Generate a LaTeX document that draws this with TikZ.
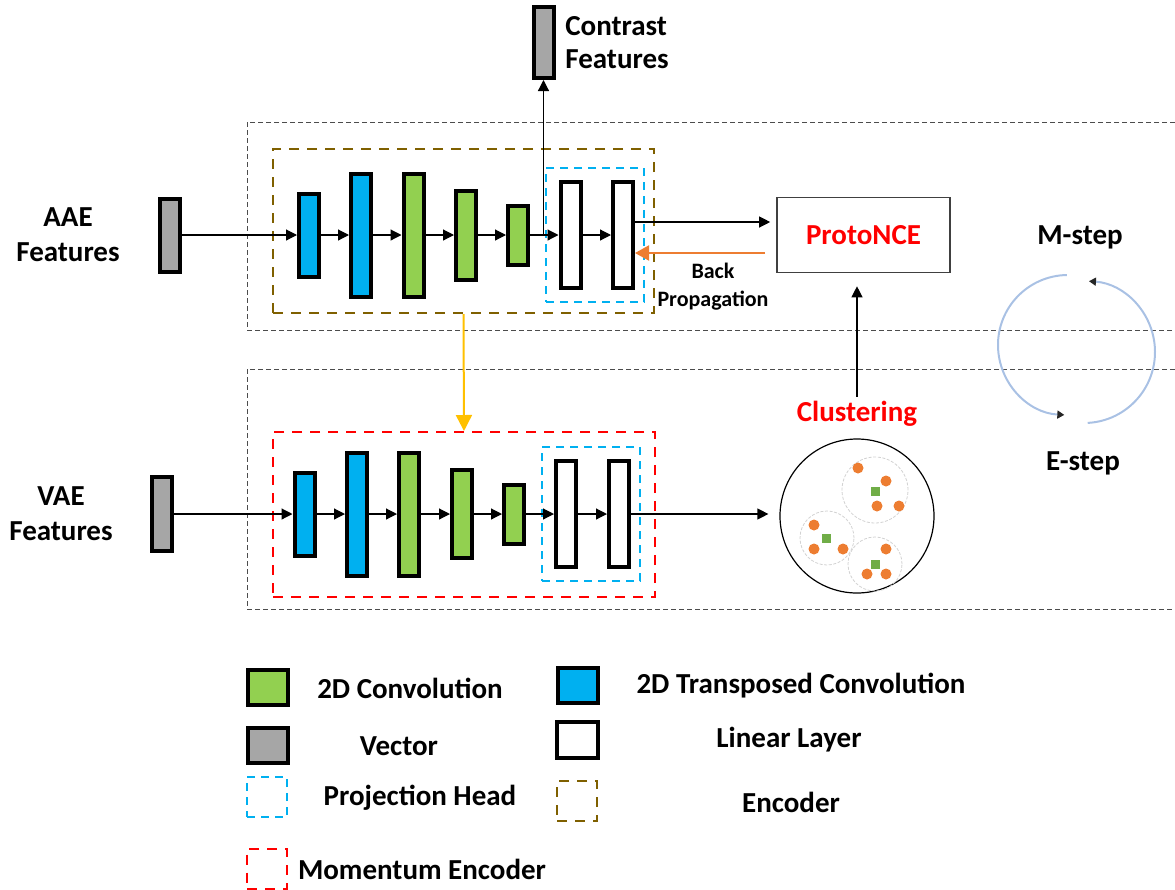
\documentclass[tikz,border=0pt]{standalone}
\usepackage{fontspec}
\setmainfont{Carlito}
\usetikzlibrary{arrows.meta}
\usepackage{xcolor}

\definecolor{convgreen}{HTML}{92D050}
\definecolor{tconvblue}{HTML}{00B0F0}
\definecolor{vecgray}{HTML}{A6A6A6}
\definecolor{encbrown}{HTML}{7F6000}
\definecolor{projcyan}{HTML}{00B0F0}
\definecolor{momred}{HTML}{FF0000}
\definecolor{bporange}{HTML}{ED7D31}
\definecolor{emayellow}{HTML}{FFC000}
\definecolor{centgreen}{HTML}{70AD47}
\definecolor{cycblue}{HTML}{A9C1E4}

\tikzset{
  lay/.style={draw=black, line width=2pt, inner sep=0pt, minimum width=10pt},
  conv/.style={lay, fill=convgreen},
  tconv/.style={lay, fill=tconvblue},
  lin/.style={lay, fill=white},
  vec/.style={lay, fill=vecgray},
  encbox/.style={draw=encbrown, line width=1pt, dash pattern=on 5pt off 4pt, inner sep=0pt},
  projbox/.style={draw=projcyan, line width=1pt, dash pattern=on 4pt off 3pt, inner sep=0pt},
  mombox/.style={draw=momred, line width=1pt, dash pattern=on 5pt off 4pt, inner sep=0pt},
  frame/.style={draw=black!70, line width=0.5pt, dash pattern=on 2.5pt off 1.5pt},
  lbl/.style={font=\bfseries\fontsize{14.5}{17.5}\selectfont, align=center},
  fwd/.style={-{Triangle[length=5.5pt,width=5.5pt]}, draw=black, line width=0.6pt},
  dot/.style={circle, fill=bporange, inner sep=0pt, minimum size=5.5pt},
  cent/.style={rectangle, fill=centgreen, inner sep=0pt, minimum size=4.5pt},
  subclu/.style={circle, draw=gray!35, line width=0.4pt, dash pattern=on 1.5pt off 0.8pt, inner sep=0pt},
  cyc/.style={draw=cycblue, line width=1pt, -{Triangle[length=3.5pt,width=4pt,color=black!85]}},
  legsq/.style={lay, minimum width=20pt, minimum height=17.5pt},
  legdash/.style={line width=1pt, inner sep=0pt, minimum size=20pt}
}

\begin{document}
\begin{tikzpicture}[x=0.5pt,y=-0.5pt]
  \useasboundingbox (0,0) rectangle (1175,890);

  % frames
  \draw[frame] (1175,122) -| (247,330) -- (1175,330);
  \draw[frame] (1175,369) -| (247,609) -- (1175,609);

  % encoder row
  \node[encbox, minimum width=190.5pt, minimum height=82pt] (enc) at (463.5,231) {};
  \node[projbox, minimum width=49pt, minimum height=67pt] (projA) at (595,235) {};
  \node[lbl] (AAE) at (68,235) {AAE\\Features};
  \node[vec, minimum height=36.5pt] (vecA) at (169.5,235) {};
  \node[tconv, minimum height=41.5pt] (a1) at (309,235) {};
  \node[tconv, minimum height=61.5pt] (a2) at (361,235) {};
  \node[conv, minimum height=61.5pt] (a3) at (413.5,235) {};
  \node[conv, minimum height=44.5pt] (a4) at (466,235) {};
  \node[conv, minimum height=29.5pt] (a5) at (518,235) {};
  \node[lin, minimum height=53pt] (a6) at (570.5,235) {};
  \node[lin, minimum height=53pt] (a7) at (623,235) {};
  \draw[fwd] (vecA) -- (a1);
  \draw[fwd] (a1) -- (a2);
  \draw[fwd] (a2) -- (a3);
  \draw[fwd] (a3) -- (a4);
  \draw[fwd] (a4) -- (a5);
  \draw[fwd] (a5) -- (a6);
  \draw[fwd] (a6) -- (a7);

  % contrast features
  \node[vec, minimum height=35.5pt] (ctr) at (543.5,42.5) {};
  \node[lbl, align=left, anchor=west, inner sep=1pt, font=\bfseries\fontsize{14.5}{16.5}\selectfont] (ctrTxt) at (563,43) {Contrast\\Features};
  \coordinate (split) at (543.5,235);
  \draw[fwd] (split) -- (ctr);

  % protonce
  \node[draw=black!75, line width=0.8pt, minimum width=86.5pt, minimum height=37.5pt, lbl, text=red] (proto) at (863.5,235) {ProtoNCE};
  \draw[fwd] ([yshift=6.5pt]a7.east) -- ([xshift=-3pt,yshift=6.5pt]proto.west);
  \draw[-{Triangle[length=7pt,width=7.5pt]}, draw=bporange, line width=1pt] ([xshift=-5.5pt,yshift=-9pt]proto.west) -- ([yshift=-9pt]a7.east);
  \node[font=\bfseries\fontsize{11}{14}\selectfont, align=center] (bp) at (713,287) {Back\\Propagation};

  % momentum encoder row
  \node[mombox, minimum width=191pt, minimum height=82.5pt] (mom) at (464,514.5) {};
  \node[projbox, minimum width=49pt, minimum height=67pt] (projB) at (591,514) {};
  \node[lbl] (VAE) at (61,514) {VAE\\Features};
  \node[vec, minimum height=37pt] (vecB) at (162,514) {};
  \node[tconv, minimum height=41.5pt] (b1) at (304.5,514) {};
  \node[tconv, minimum height=61.5pt] (b2) at (357,514) {};
  \node[conv, minimum height=61.5pt] (b3) at (409,514) {};
  \node[conv, minimum height=44pt] (b4) at (462,514) {};
  \node[conv, minimum height=29.5pt] (b5) at (514,514) {};
  \node[lin, minimum height=53pt] (b6) at (566,514) {};
  \node[lin, minimum height=53pt] (b7) at (619,514) {};
  \draw[fwd] (vecB) -- (b1);
  \draw[fwd] (b1) -- (b2);
  \draw[fwd] (b2) -- (b3);
  \draw[fwd] (b3) -- (b4);
  \draw[fwd] (b4) -- (b5);
  \draw[fwd] (b5) -- (b6);
  \draw[fwd] (b6) -- (b7);

  \draw[-{Triangle[length=8pt,width=8pt]}, draw=emayellow, line width=1pt] (enc.south) -- (mom.north);

  % clustering
  \node[circle, draw=black, line width=0.6pt, minimum size=77pt, inner sep=0pt] (clu) at (857,516) {};
  \node[subclu, minimum size=33pt] (s1) at (875,490) {};
  \node[subclu, minimum size=27pt] (s2) at (827,538) {};
  \node[subclu, minimum size=27pt] (s3) at (875,564) {};
  \node[dot] (d1) at (858,468) {};
  \node[dot] (d2) at (886,481) {};
  \node[dot] (d3) at (877,506) {};
  \node[dot] (d4) at (899,506) {};
  \node[dot] (d5) at (814,525) {};
  \node[dot] (d6) at (814,549) {};
  \node[dot] (d7) at (843,549) {};
  \node[dot] (d8) at (886,549) {};
  \node[dot] (d9) at (867,574) {};
  \node[dot] (d10) at (886,574) {};
  \node[cent] (c1) at (875,491) {};
  \node[cent] (c2) at (826,538) {};
  \node[cent] (c3) at (875,564) {};
  \node[lbl, text=red, inner sep=2pt] (cluTxt) at (857,414) {Clustering};
  \draw[fwd] (b7.east) -- ([xshift=-5.5pt]b7.east -| clu.west);
  \draw[fwd] (cluTxt.north) -- ([yshift=-6.5pt]cluTxt.north |- proto.south);

  % em cycle
  \node[lbl] (Mst) at (1080,237) {M-step};
  \node[lbl] (Est) at (1083,463) {E-step};
  \coordinate (cycL) at (1068,345);
  \coordinate (cycR) at (1084,352);
  \draw[cyc] (cycL) ++(91:35pt) arc[start angle=91, end angle=267, radius=35pt];
  \draw[cyc] (cycR) ++(-87:35.5pt) arc[start angle=-87, end angle=86, radius=35.5pt];

  % legend
  \node[legsq, fill=convgreen] (lgConv) at (268,687) {};
  \node[lbl] (lgConvTxt) at (410,688) {2D Convolution};
  \node[legsq, fill=tconvblue] (lgTconv) at (578,685) {};
  \node[lbl] (lgTconvTxt) at (801,686) {2D Transposed Convolution};
  \node[legsq, fill=vecgray] (lgVec) at (268,745.5) {};
  \node[lbl] (lgVecTxt) at (399,746) {Vector};
  \node[legsq, fill=white, minimum width=20.5pt, minimum height=18pt] (lgLin) at (577.5,740) {};
  \node[lbl] (lgLinTxt) at (789,740) {Linear Layer};
  \node[legdash, draw=projcyan, dash pattern=on 4pt off 3pt] (lgProj) at (267,797) {};
  \node[lbl] (lgProjTxt) at (420,798) {Projection Head};
  \node[legdash, draw=encbrown, dash pattern=on 5pt off 4pt] (lgEnc) at (577,801) {};
  \node[lbl] (lgEncTxt) at (791,802) {Encoder};
  \node[legdash, draw=momred, dash pattern=on 5pt off 4pt] (lgMom) at (267,868.5) {};
  \node[lbl] (lgMomTxt) at (422,869) {Momentum Encoder};

\end{tikzpicture}
\end{document}
